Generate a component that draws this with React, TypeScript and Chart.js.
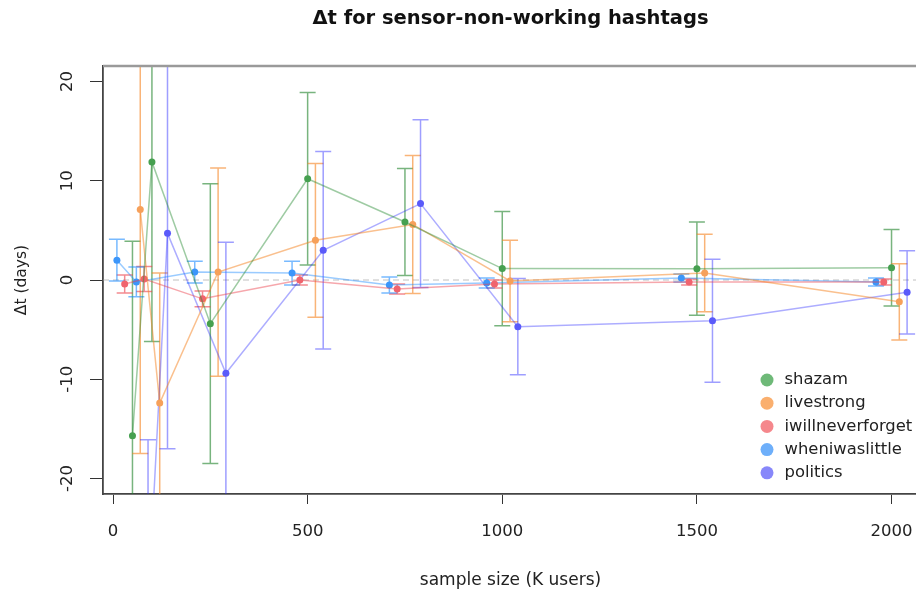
import { useEffect, useRef } from "react";
import { Chart, registerables } from "chart.js";

Chart.register(...registerables);

// ---- data ----
const seriesNames = ["shazam", "livestrong", "iwillneverforget", "wheniwaslittle", "politics"];

const shazamX = [50, 100, 250, 500, 750, 1000, 1500, 2000];
const shazamY = [-15.7, 11.9, -4.4, 10.2, 5.85, 1.15, 1.14, 1.24];
const shazamErr = [19.6, 18.1, 14.1, 8.7, 5.4, 5.75, 4.7, 3.85];

const livestrongX = [70, 120, 270, 520, 770, 1020, 1520, 2020];
const livestrongY = [7.1, -12.4, 0.8, 4.0, 5.6, -0.1, 0.7, -2.2];
const livestrongErr = [24.6, 13.1, 10.5, 7.75, 6.95, 4.1, 3.9, 3.85];

const iwillneverforgetX = [30, 80, 230, 480, 730, 980, 1480, 1980];
const iwillneverforgetY = [-0.4, 0.1, -1.9, 0.0, -0.9, -0.4, -0.2, -0.2];
const iwillneverforgetErr = [0.9, 1.25, 0.8, 0.5, 0.5, 0.4, 0.3, 0.3];

const wheniwaslittleX = [10, 60, 210, 460, 710, 960, 1460, 1960];
const wheniwaslittleY = [2.0, -0.2, 0.8, 0.7, -0.5, -0.3, 0.2, -0.2];
const wheniwaslittleErr = [2.1, 1.5, 1.1, 1.2, 0.8, 0.5, 0.4, 0.4];

const politicsX = [90, 140, 290, 540, 790, 1040, 1540, 2040];
const politicsY = [-33.0, 4.7, -9.4, 3.0, 7.7, -4.7, -4.1, -1.24];
const politicsErr = [16.9, 21.7, 13.2, 9.95, 8.45, 4.85, 6.2, 4.2];

const xTicks = [0, 500, 1000, 1500, 2000];
const yTicks = [-20, -10, 0, 10, 20];

const titleText = "Δt for sensor-non-working hashtags";
const xTitle = "sample size (K users)";
const yTitle = "Δt (days)";

// ---- styles ----
const FONT = "DejaVu Sans";
const lineColors = [
  "rgba(40,140,50,0.45)",
  "rgba(245,130,30,0.5)",
  "rgba(235,60,70,0.45)",
  "rgba(30,140,255,0.45)",
  "rgba(40,40,255,0.38)",
];
const barColors = [
  "rgba(30,130,40,0.6)",
  "rgba(245,130,30,0.6)",
  "rgba(235,60,70,0.6)",
  "rgba(30,140,255,0.6)",
  "rgba(40,40,255,0.45)",
];
const dotColors = [
  "rgb(70,160,80)",
  "rgb(246,160,90)",
  "rgb(240,100,110)",
  "rgb(60,150,250)",
  "rgb(90,90,250)",
];
const legendColors = [
  "rgb(110,185,120)",
  "rgb(250,175,110)",
  "rgb(245,135,140)",
  "rgb(110,175,250)",
  "rgb(135,135,250)",
];

const seriesX = [shazamX, livestrongX, iwillneverforgetX, wheniwaslittleX, politicsX];
const seriesY = [shazamY, livestrongY, iwillneverforgetY, wheniwaslittleY, politicsY];
const seriesErr = [shazamErr, livestrongErr, iwillneverforgetErr, wheniwaslittleErr, politicsErr];

const errorBarPlugin = {
  id: "errorBars",
  beforeDatasetsDraw(chart: any) {
    const { ctx, chartArea, scales } = chart;
    const xs = scales.x;
    const ys = scales.y;
    ctx.save();
    ctx.beginPath();
    ctx.rect(chartArea.left, chartArea.top, chartArea.right - chartArea.left, chartArea.bottom - chartArea.top);
    ctx.clip();
    // dashed zero line
    ctx.strokeStyle = "rgba(150,150,150,0.6)";
    ctx.lineWidth = 1;
    ctx.setLineDash([6, 4]);
    const y0 = ys.getPixelForValue(0);
    ctx.beginPath();
    ctx.moveTo(chartArea.left, y0);
    ctx.lineTo(chartArea.right, y0);
    ctx.stroke();
    ctx.setLineDash([]);
    const cap = 8;
    seriesX.forEach((xsArr, s) => {
      ctx.strokeStyle = barColors[s];
      ctx.lineWidth = 1.5;
      ctx.beginPath();
      xsArr.forEach((xv, i) => {
        const px = xs.getPixelForValue(xv);
        const top = ys.getPixelForValue(seriesY[s][i] + seriesErr[s][i]);
        const bot = ys.getPixelForValue(seriesY[s][i] - seriesErr[s][i]);
        ctx.moveTo(px, top);
        ctx.lineTo(px, bot);
        ctx.moveTo(px - cap, top);
        ctx.lineTo(px + cap, top);
        ctx.moveTo(px - cap, bot);
        ctx.lineTo(px + cap, bot);
      });
      ctx.stroke();
    });
    ctx.restore();
  },
  afterDraw(chart: any) {
    const { ctx, chartArea } = chart;
    ctx.save();
    // top border (gray)
    ctx.strokeStyle = "#9a9a9a";
    ctx.lineWidth = 2.5;
    ctx.beginPath();
    ctx.moveTo(chartArea.left, chartArea.top);
    ctx.lineTo(chartArea.right, chartArea.top);
    ctx.stroke();
    // legend
    const lx = chartArea.right - 151;
    const ly = chartArea.bottom - 114;
    ctx.font = `16.4px "${FONT}"`;
    ctx.textBaseline = "middle";
    ctx.textAlign = "left";
    seriesNames.forEach((name, i) => {
      const cy = ly + i * 23.2;
      ctx.fillStyle = legendColors[i];
      ctx.beginPath();
      ctx.arc(lx, cy, 6.5, 0, Math.PI * 2);
      ctx.fill();
      ctx.fillStyle = "#222";
      ctx.fillText(name, lx + 17.5, cy);
    });
    ctx.restore();
  },
};

export default function App() {
  const ref = useRef<HTMLCanvasElement | null>(null);
  useEffect(() => {
    if (!ref.current) return;
    const datasets = seriesNames.map((name, s) => ({
      label: name,
      data: seriesX[s].map((x, i) => ({ x, y: seriesY[s][i] })),
      borderColor: lineColors[s],
      borderWidth: 1.5,
      pointRadius: 3.5,
      pointBackgroundColor: dotColors[s],
      pointBorderWidth: 0,
      showLine: true,
      tension: 0,
    }));
    const chart = new Chart(ref.current, {
      type: "line",
      data: { datasets },
      plugins: [errorBarPlugin],
      options: {
        responsive: false,
        animation: false,
        devicePixelRatio: 1,
        layout: { padding: 0 },
        font: { family: FONT },
        plugins: {
          legend: { display: false },
          tooltip: { enabled: false },
          title: {
            display: true,
            text: titleText,
            fullSize: false,
            color: "#111",
            font: { family: FONT, size: 19.5, weight: "bold" },
            padding: { top: 7, bottom: 35.6 },
          },
        },
        scales: {
          x: {
            type: "linear",
            position: "bottom",
            min: -25.7,
            max: 2068,
            afterBuildTicks: (sc: any) => {
              sc.ticks = xTicks.map((v) => ({ value: v }));
            },
            afterFit: (sc: any) => {
              sc.paddingLeft = 0;
              sc.paddingRight = 0;
            },
            ticks: {
              color: "#222",
              font: { family: FONT, size: 16.5 },
              padding: 17.5,
              maxRotation: 0,
              autoSkip: false,
              callback: (v: any) => String(v),
            },
            grid: {
              display: true,
              drawOnChartArea: false,
              drawTicks: true,
              tickLength: 10,
              tickColor: "#333",
              tickWidth: 1,
            },
            border: { display: true, color: "#444", width: 1.8 },
            title: {
              display: true,
              text: xTitle,
              color: "#222",
              font: { family: FONT, size: 17 },
              padding: { top: 11.5, bottom: 1.3 },
            },
          },
          y: {
            type: "linear",
            position: "left",
            min: -21.57,
            max: 21.57,
            afterBuildTicks: (sc: any) => {
              sc.ticks = yTicks.map((v) => ({ value: v }));
            },
            afterFit: (sc: any) => {
              sc.paddingTop = 0;
              sc.paddingBottom = 0;
            },
            ticks: {
              color: "#222",
              font: { family: FONT, size: 16.5 },
              padding: 8.8,
              minRotation: 90,
              maxRotation: 90,
              crossAlign: "center",
              autoSkip: false,
              callback: (v: any) => String(v),
            },
            grid: {
              display: true,
              drawOnChartArea: false,
              drawTicks: true,
              tickLength: 13,
              tickColor: "#333",
              tickWidth: 1,
            },
            border: { display: true, color: "#444", width: 1.8 },
            title: {
              display: true,
              text: yTitle,
              color: "#222",
              font: { family: FONT, size: 15.5 },
              padding: { top: 12.4, bottom: 21.6 },
            },
          },
        },
      } as any,
    });
    return () => chart.destroy();
  }, []);
  return (
    <div
      style={{
        position: "absolute",
        left: 0,
        top: 0,
        width: 916,
        height: 592,
        overflow: "hidden",
        background: "#fff",
      }}
    >
      <canvas ref={ref} width={922} height={592} style={{ display: "block" }} />
    </div>
  );
}
